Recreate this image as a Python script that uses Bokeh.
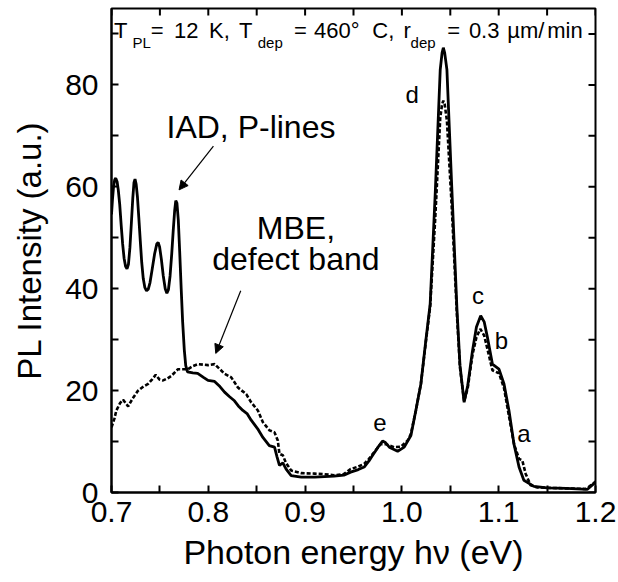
from bokeh.plotting import figure
from bokeh.models import FixedTicker, Arrow, NormalHead, Range1d
from bokeh.core.properties import value
from bokeh.embed import file_html
from bokeh.resources import INLINE

# ---------------- data ----------------
iad_energy = [0.7000, 0.7010, 0.7021, 0.7033, 0.7044, 0.7058, 0.7070, 0.7085, 0.7100,
              0.7115, 0.7130, 0.7145, 0.7160, 0.7175, 0.7190, 0.7205, 0.7220, 0.7232,
              0.7243, 0.7255, 0.7268, 0.7282, 0.7297, 0.7312, 0.7328, 0.7345, 0.7362,
              0.7380, 0.7398, 0.7420, 0.7445, 0.7468, 0.7482, 0.7497, 0.7515, 0.7535,
              0.7555, 0.7572, 0.7588, 0.7605, 0.7622, 0.7638, 0.7652, 0.7664, 0.7676,
              0.7690, 0.7705, 0.7720, 0.7735, 0.7752, 0.7767, 0.7785,
              0.7840, 0.7890, 0.7950, 0.7997,
              0.8065, 0.8120, 0.8168, 0.8220, 0.8270, 0.8310, 0.8357, 0.8400, 0.8443,
              0.8510, 0.8564, 0.8630, 0.8684, 0.8710, 0.8735, 0.8770, 0.8804, 0.8856,
              0.8960, 0.9100, 0.9200, 0.9300, 0.9400, 0.9470, 0.9550, 0.9610, 0.9660,
              0.9698, 0.9750, 0.9800, 0.9830, 0.9870, 0.9956, 1.0024, 1.0093, 1.0144,
              1.0196, 1.0247, 1.0292, 1.0345, 1.0396, 1.0415, 1.0428, 1.0442, 1.0465,
              1.0515, 1.0568, 1.0600, 1.0643, 1.0680, 1.0729, 1.0770, 1.0814, 1.0850,
              1.0883, 1.0935, 1.1003, 1.1055, 1.1106, 1.1158, 1.1210, 1.1260, 1.1364,
              1.1500, 1.1700, 1.1914, 1.1980, 1.2000]
iad_intensity = [54.6, 57.5, 60.0, 61.4, 61.7, 61.0, 59.4, 56.5, 52.5,
                 48.8, 46.0, 44.4, 43.9, 44.8, 48.0, 52.8, 57.8, 60.8,
                 61.5, 60.5, 58.0, 54.0, 49.5, 45.2, 42.0, 40.2, 39.6,
                 39.9, 41.2, 43.8, 46.8, 48.8, 49.1, 48.2, 45.8, 42.5,
                 40.0, 39.1, 39.8, 42.5, 46.8, 51.5, 55.2, 57.3, 56.8,
                 53.5, 47.0, 40.0, 33.5, 28.0, 24.9, 23.7,
                 23.5, 23.4, 22.6, 22.0,
                 21.8, 20.8, 19.7, 18.8, 18.0, 17.0, 16.1, 15.5, 14.2,
                 12.5, 10.8, 9.2, 8.9, 7.0, 5.3, 5.8, 4.6, 3.3,
                 3.0, 3.0, 3.1, 3.2, 3.4, 4.0, 4.5, 5.0, 6.2,
                 7.3, 8.8, 10.1, 9.8, 8.9, 8.1, 8.9, 11.2, 16.1,
                 21.3, 29.8, 37.0, 59.0, 83.0, 86.3, 87.3, 86.3, 83.0,
                 60.0, 36.3, 25.0, 17.7, 21.0, 27.8, 32.5, 34.7, 33.5,
                 30.5, 25.2, 24.2, 21.3, 16.1, 9.5, 5.0, 2.4, 1.2,
                 0.9, 0.8, 0.6, 1.7, 2.2]

mbe_energy = [0.7000, 0.7030, 0.7050, 0.7090, 0.7120, 0.7172, 0.7220, 0.7275, 0.7330,
              0.7378, 0.7420, 0.7457, 0.7495, 0.7533, 0.7580, 0.7619, 0.7687, 0.7790,
              0.7840, 0.7894, 0.7997, 0.8065, 0.8120, 0.8168, 0.8237, 0.8306, 0.8392,
              0.8443, 0.8512, 0.8564, 0.8632, 0.8684, 0.8718, 0.8735, 0.8770, 0.8800,
              0.8856, 0.8960, 0.9100, 0.9200, 0.9300, 0.9400, 0.9470, 0.9550, 0.9610,
              0.9660, 0.9700, 0.9780, 0.9830, 0.9920, 0.9990, 1.0060, 1.0093, 1.0144,
              1.0196, 1.0247, 1.0292, 1.0345, 1.0396, 1.0415, 1.0428, 1.0442, 1.0465,
              1.0515, 1.0568, 1.0600, 1.0643, 1.0680, 1.0729, 1.0770, 1.0810, 1.0850,
              1.0883, 1.0935, 1.1003, 1.1055, 1.1106, 1.1158, 1.1210, 1.1244, 1.1278,
              1.1330, 1.1400, 1.1700, 1.1900, 1.1980, 1.2000]
mbe_intensity = [12.8, 14.5, 16.1, 17.6, 18.2, 16.9, 18.5, 20.0, 20.8,
                 21.3, 22.2, 23.1, 22.2, 22.0, 22.4, 22.9, 24.2, 24.2,
                 24.8, 25.2, 25.0, 25.2, 24.2, 23.3, 22.6, 20.6, 19.3,
                 17.7, 16.1, 13.8, 12.2, 11.8, 10.2, 7.6, 7.3, 5.9,
                 4.3, 3.8, 3.7, 3.6, 3.4, 3.6, 4.6, 5.1, 5.6,
                 6.6, 7.6, 9.5, 9.5, 8.9, 9.0, 10.2, 11.5, 16.1,
                 21.3, 29.5, 36.5, 54.0, 73.5, 76.2, 76.9, 76.2, 73.0,
                 56.0, 35.0, 24.5, 17.9, 20.5, 27.0, 30.5, 32.1, 30.8,
                 28.2, 24.0, 23.4, 20.5, 15.0, 9.5, 6.6, 6.3, 3.7,
                 1.4, 1.0, 0.8, 0.7, 1.8, 2.0]

x_ticks = [0.7, 0.8, 0.9, 1.0, 1.1, 1.2]
x_tick_labels = ["0.7", "0.8", "0.9", "1.0", "1.1", "1.2"]
x_minor = [0.75, 0.85, 0.95, 1.05, 1.15]
y_ticks = [0, 20, 40, 60, 80]
y_tick_labels = ["0", "20", "40", "60", "80"]
y_minor = [10, 30, 50, 70, 90]

peak_names = ["d", "c", "b", "e", "a"]
peak_name_x = [1.0106, 1.0787, 1.1027, 0.9772, 1.1260]
peak_name_y = [78.1, 38.6, 29.8, 13.8, 11.5]

X0, X1, Y0, Y1 = 0.7, 1.2, 0, 95
FONT = "Liberation Sans"
FRAME_W, FRAME_H = 484, 484      # plot area in pixels
TICK_PX = 7                      # inward tick length

p = figure(width=618, height=582, x_range=Range1d(X0, X1), y_range=Range1d(Y0, Y1),
           output_backend="svg", toolbar_location=None,
           min_border_left=111, min_border_right=23, min_border_top=8, min_border_bottom=90)
p.xgrid.visible = False
p.ygrid.visible = False
p.outline_line_color = "black"
p.outline_line_width = 2
p.background_fill_color = "white"
p.border_fill_color = "white"


def style_axis(ax):
    ax.axis_line_width = 2
    ax.axis_line_color = "black"
    ax.major_tick_in = TICK_PX
    ax.major_tick_out = 0
    ax.minor_tick_in = TICK_PX
    ax.minor_tick_out = 0
    ax.major_tick_line_width = 2
    ax.minor_tick_line_width = 2
    ax.major_tick_line_color = "black"
    ax.minor_tick_line_color = "black"
    ax.major_label_text_font = FONT
    ax.major_label_text_color = "black"
    ax.major_label_text_font_size = "30px"


xa = p.xaxis[0]
xa.ticker = FixedTicker(ticks=x_ticks, minor_ticks=x_minor)
xa.major_label_overrides = {t: s for t, s in zip(x_ticks, x_tick_labels)}
style_axis(xa)
xa.major_label_standoff = 9
xa.axis_label = "Photon energy h\u03bd (eV)"
xa.axis_label_text_font = FONT
xa.axis_label_text_font_size = "34px"
xa.axis_label_text_font_style = "normal"
xa.axis_label_standoff = 8
xa.axis_label_text_color = "black"

ya = p.yaxis[0]
ya.ticker = FixedTicker(ticks=y_ticks, minor_ticks=y_minor)
ya.major_label_overrides = {t: s for t, s in zip(y_ticks, y_tick_labels)}
style_axis(ya)
ya.major_label_standoff = 13
ya.axis_label = "PL Intensity (a.u.)"
ya.axis_label_text_font = FONT
ya.axis_label_text_font_size = "33px"
ya.axis_label_text_font_style = "normal"
ya.axis_label_standoff = 14
ya.axis_label_text_color = "black"

# mirrored inward ticks on the top and right frame edges
top_ticks = x_ticks + x_minor
right_ticks = y_ticks + y_minor
dy = TICK_PX * (Y1 - Y0) / FRAME_H
dx = TICK_PX * (X1 - X0) / FRAME_W
p.segment(x0=top_ticks, y0=[Y1] * len(top_ticks), x1=top_ticks, y1=[Y1 - dy] * len(top_ticks),
          line_color="black", line_width=2)
p.segment(x0=[X1] * len(right_ticks), y0=right_ticks, x1=[X1 - dx] * len(right_ticks), y1=right_ticks,
          line_color="black", line_width=2)

# curves
p.line(mbe_energy, mbe_intensity, line_color="black", line_width=2.6, line_dash="4 2")
p.line(iad_energy, iad_intensity, line_color="black", line_width=2.8)

# peak letters
p.text(x=peak_name_x, y=peak_name_y, text=peak_names, text_font=value(FONT),
       text_font_size="24px", text_align="center", text_baseline="alphabetic",
       text_color="black")

# annotations
p.text(x=[0.8441], y=[71.7], text=["IAD, P-lines"], text_font=value(FONT),
       text_font_size="32px", text_align="center", text_baseline="alphabetic", text_color="black")
p.text(x=[0.8905, 0.8905], y=[51.9, 45.9], text=["MBE,", "defect band"], text_font=value(FONT),
       text_font_size="32px", text_align="center", text_baseline="alphabetic", text_color="black")

p.add_layout(Arrow(end=NormalHead(size=9, fill_color="black", line_color="black", line_width=1),
                   x_start=0.8053, y_start=68.0, x_end=0.7698, y_end=59.4,
                   line_color="black", line_width=1.2))
p.add_layout(Arrow(end=NormalHead(size=9, fill_color="black", line_color="black", line_width=1),
                   x_start=0.8335, y_start=39.6, x_end=0.8077, y_end=27.3,
                   line_color="black", line_width=1.2))

# header inside the frame (with subscripts)
main_x = [0.70268, 0.74057, 0.76463, 0.80076, 0.83174, 0.88852, 0.90917, 0.96946,
          1.00178, 1.04689, 1.06920, 1.10884, 1.15015]
main_t = ["T", "=", "12", "K,", "T", "=", "460\u00b0", "C,", "r", "=", "0.3", "\u00b5m/", "min"]
sub_x = [0.72168, 0.85104, 1.00900]
sub_t = ["PL", "dep", "dep"]
p.text(x=main_x, y=[90.6] * len(main_x), text=main_t, text_font=value(FONT),
       text_font_size="22px", text_align="left", text_baseline="alphabetic", text_color="black")
p.text(x=sub_x, y=[88.4] * len(sub_x), text=sub_t, text_font=value(FONT),
       text_font_size="15px", text_align="left", text_baseline="alphabetic", text_color="black")

open("out.html", "w").write(file_html(p, INLINE))
